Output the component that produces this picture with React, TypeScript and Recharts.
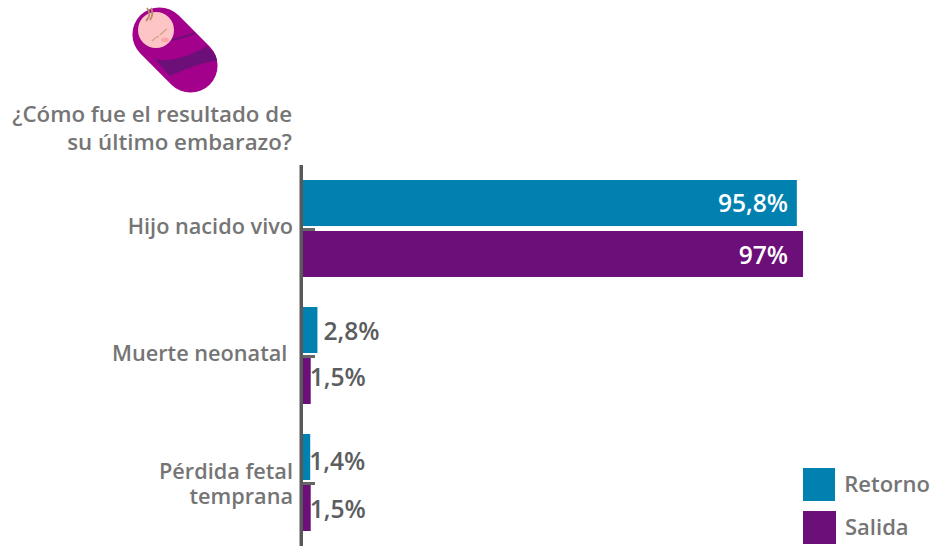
import React from 'react';
import { BarChart, Bar, XAxis, YAxis, Legend, LabelList } from 'recharts';

const categories = ['Hijo nacido vivo', 'Muerte neonatal ', 'Pérdida fetal\ntemprana'];
const retorno = [95.8, 2.8, 1.4];
const salida = [97, 1.5, 1.5];
const titleLines = ['¿Cómo fue el resultado de', 'su último embarazo?'];

const data = categories.map((name, i) => ({ name, Retorno: retorno[i], Salida: salida[i] }));

const FONT = '"Open Sans", sans-serif';
const BLUE = '#0081b0';
const PURPLE = '#6d0f78';
const GREY = '#757575';
const DARK = '#5c5d5f';

// the labels in the reference are not quite centred on their bars
const retornoNudge = [0, 1, 4];
const salidaNudge = [1, -4, 1];

const CategoryTick = ({ x, y, payload }: any) => {
  const lines = String(payload.value).split('\n');
  const first = lines.length > 1 ? -3.5 : 5;
  return (
    <g>
      <line x1={303} x2={315} y1={y + 1} y2={y + 1} stroke="#666" strokeWidth={3} />
      <text x={x - 2} y={y} textAnchor="end" fontFamily={FONT} fontWeight={600} fontSize={21.7} fill={GREY} style={{ whiteSpace: 'pre' }}>
        {lines.map((l, i) => (
          <tspan key={i} x={x - 2} dy={i === 0 ? first : 25}>{l}</tspan>
        ))}
      </text>
    </g>
  );
};

const ValueLabel = ({ x, y, width, height, value, index, nudge }: any) => {
  const text = String(value).replace('.', ',') + '%';
  const inside = value > 50;
  const gap = value > 2 ? 6 : -1;
  return (
    <text
      x={inside ? 788 : x + width + gap}
      y={y + height / 2 + 9 + nudge[index]}
      textAnchor={inside ? 'end' : 'start'}
      fontFamily={FONT}
      fontWeight={600}
      fontSize={24.6}
      fill={inside ? '#fff' : DARK}
    >
      {text}
    </text>
  );
};

const LegendBox = ({ payload }: any) => (
  <div style={{ fontFamily: FONT, fontWeight: 600, fontSize: 22, color: GREY, lineHeight: '30px' }}>
    {(payload || []).map((p: any) => (
      <div key={p.value} style={{ display: 'flex', alignItems: 'flex-start', height: 33, marginBottom: 10 }}>
        <span style={{ width: 33, height: 33, background: p.color, marginRight: 9 }} />
        {p.value}
      </div>
    ))}
  </div>
);

const Baby = () => (
  <svg width={120} height={100} style={{ position: 'absolute', left: 120, top: 0 }} viewBox="120 0 120 100">
    <defs>
      <clipPath id="wrap">
        <rect x={126} y={23} width={98} height={54} rx={27} transform="rotate(45 175 50)" />
      </clipPath>
    </defs>
    <rect x={126} y={23} width={98} height={54} rx={27} transform="rotate(45 175 50)" fill="#a3008b" />
    <path d="M155 59 C170 63 190 56 207 46 L220 60 C200 63 186 69 170 76 Z" fill={PURPLE} clipPath="url(#wrap)" />
    <path d="M172 40 C180 38 188 36 195 33" stroke={PURPLE} strokeWidth={2} fill="none" />
    <circle cx={156} cy={30} r={18} fill="#fdc5c5" />
    <circle cx={170} cy={26} r={3} fill="#fdc5c5" />
    <path d="M152 41 C154 38 156 37 159 36 M160 35 C162 33 164 31 167 29" stroke="#d9a98f" strokeWidth={1.6} fill="none" />
    <ellipse cx={165} cy={40} rx={4} ry={2.5} fill="#f7a9a9" />
    <path d="M146 21 C150 17 150 12 147 8 M150 20 C153 16 153 12 151 8" stroke="#b98a6e" strokeWidth={1.8} fill="none" />
  </svg>
);

const App = () => (
  <div style={{ position: 'absolute', left: 0, top: 0, width: 930, height: 548 }}>
    <Baby />
    <div style={{ position: 'absolute', right: 638, top: 100, width: 300, textAlign: 'right', fontFamily: FONT, fontWeight: 600, fontSize: 22.3, lineHeight: '28px', color: GREY }}>
      {titleLines.map((l) => (
        <div key={l}>{l}</div>
      ))}
    </div>
    <BarChart width={930} height={548} data={data} layout="vertical" margin={{ top: 165, right: 111.5, bottom: 2, left: 0 }} barSize={46} barGap={5}>
      <XAxis type="number" domain={[0, 100]} hide />
      <YAxis
        type="category"
        dataKey="name"
        width={303}
        tick={<CategoryTick />}
        tickLine={false}
        axisLine={{ stroke: '#58595b', strokeWidth: 3.5, transform: 'translate(-1.75 0)' }}
        interval={0}
      />
      <Legend
        layout="vertical"
        align="center"
        verticalAlign="middle"
        content={<LegendBox />}
        wrapperStyle={{ position: 'absolute', left: 803, top: 468, width: 127, bottom: 'auto' }}
      />
      <Bar dataKey="Retorno" fill={BLUE} isAnimationActive={false}>
        <LabelList dataKey="Retorno" content={<ValueLabel nudge={retornoNudge} />} />
      </Bar>
      <Bar dataKey="Salida" fill={PURPLE} isAnimationActive={false}>
        <LabelList dataKey="Salida" content={<ValueLabel nudge={salidaNudge} />} />
      </Bar>
    </BarChart>
  </div>
);

export default App;
